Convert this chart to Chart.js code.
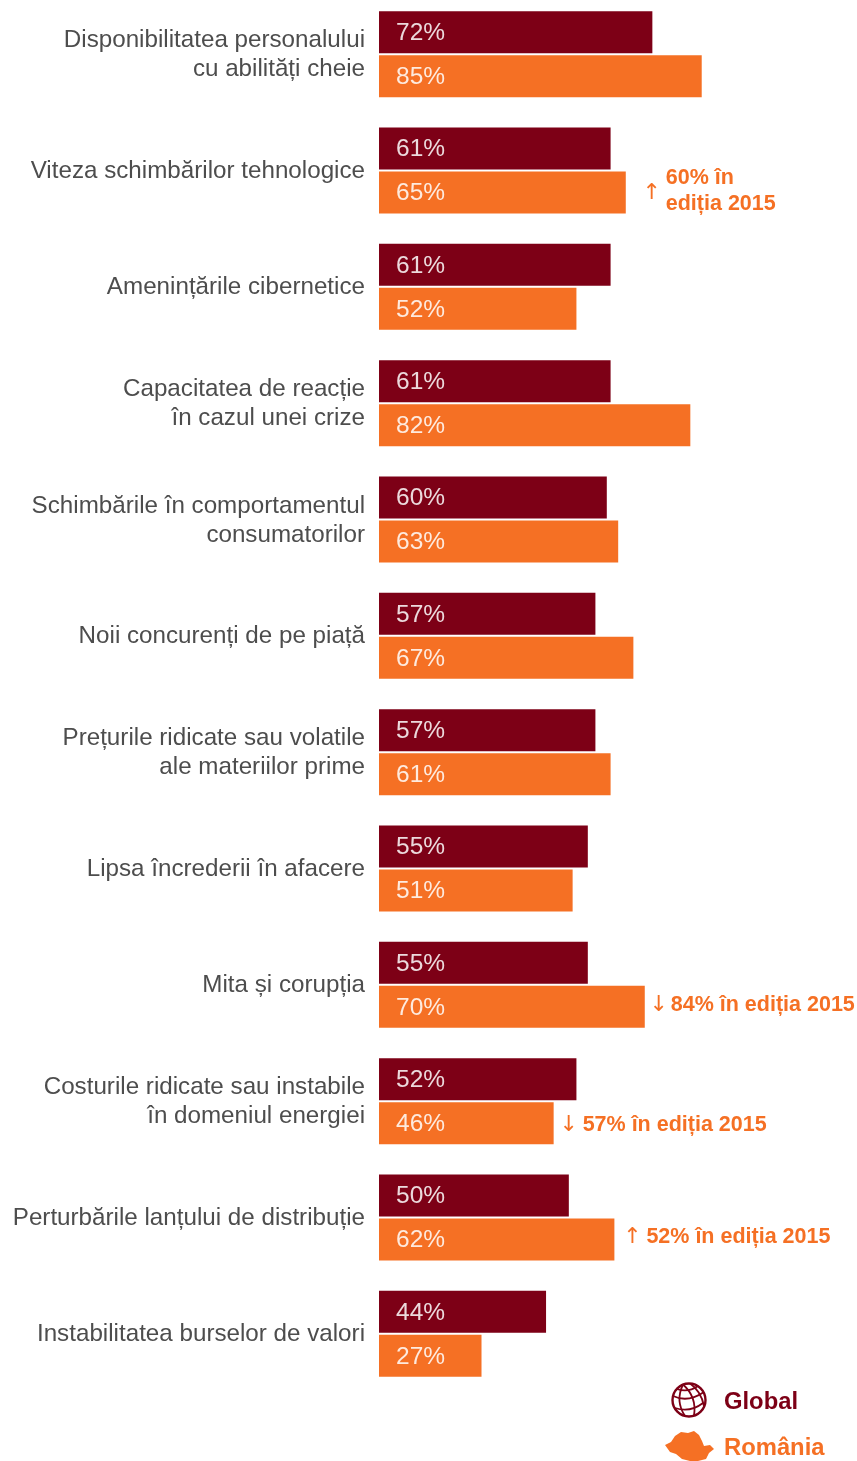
<!DOCTYPE html>
<html>
<head>
<meta charset="utf-8">
<script src="https://cdn.jsdelivr.net/npm/chart.js@4"></script>
<style>
  html, body { margin: 0; padding: 0; background: #fff; }
  body { width: 857px; height: 1461px; position: relative; overflow: hidden; }
  #wrap { position: absolute; left: 0; top: -4px; width: 857px; height: 1396px; }
  .legend-label { position: absolute; left: 724px; font: bold 23.8px "Liberation Sans", sans-serif; }
  svg { position: absolute; }
</style>
</head>
<body>
<div id="wrap"><canvas id="riskChart"></canvas></div>

<svg style="left:670px;top:1381px" width="38" height="38" viewBox="0 0 38 38" fill="none" stroke="#7d0016" stroke-width="1.8">
  <circle cx="19" cy="19" r="16.5" stroke-width="2.4"/>
  <path d="M13 3.5 Q5 20 15 35"/>
  <path d="M13 3.5 Q27 16 24 34.5"/>
  <path d="M20 2.5 Q31 10 34 25"/>
  <path d="M3 15 Q18 22 34 11"/>
  <path d="M5 27 Q20 32 33 22"/>
  <path d="M7 8 Q18 12 28 5"/>
</svg>
<div class="legend-label" style="top:1387px;color:#7d0016">Global</div>

<svg style="left:664px;top:1429px" width="52" height="32" viewBox="0 0 52 32">
  <path fill="#f57024" d="M1 16 L7 13 L11 7 L17 3 L24 4 L30 2 L35 6 L38 12 L40 17 L46 16 L50 20 L45 24 L42 30 L34 32 L26 32 L18 30 L12 25 L6 23 Z"/>
</svg>
<div class="legend-label" style="top:1433px;color:#f57024">România</div>

<script>
const categories = [
  ['Disponibilitatea personalului', 'cu abilități cheie'],
  'Viteza schimbărilor tehnologice',
  'Amenințările cibernetice',
  ['Capacitatea de reacție', 'în cazul unei crize'],
  ['Schimbările în comportamentul', 'consumatorilor'],
  'Noii concurenți de pe piață',
  ['Prețurile ridicate sau volatile', 'ale materiilor prime'],
  'Lipsa încrederii în afacere',
  'Mita și corupția',
  ['Costurile ridicate sau instabile', 'în domeniul energiei'],
  'Perturbările lanțului de distribuție',
  'Instabilitatea burselor de valori'
];
const globalValues = [72, 61, 61, 61, 60, 57, 57, 55, 55, 52, 50, 44];
const romaniaValues = [85, 65, 52, 82, 63, 67, 61, 51, 70, 46, 62, 27];

// 2015 comparison notes, by category index
const notes = {
  1: { arrow: '↑', lines: ['60% în', 'ediția 2015'] },
  8: { arrow: '↓', lines: ['84% în ediția 2015'] },
  9: { arrow: '↓', lines: ['57% în ediția 2015'] },
  10: { arrow: '↑', lines: ['52% în ediția 2015'] }
};

// where each note sits relative to the end of its bar
const noteLayout = {
  1: { arrowDx: 26, textDx: 40, arrowDy: 1, textDy: [-14, 12] },
  8: { arrowDx: 14, textDx: 26, arrowDy: -2, textDy: [-2] },
  9: { arrowDx: 15, textDx: 29, arrowDy: 2, textDy: [2] },
  10: { arrowDx: 18, textDx: 32, arrowDy: -2, textDy: [-2] }
};

const darkRed = '#7d0016';
const orange = '#f57024';

// valorile procentuale in interiorul barelor si notele din dreapta
const barTextPlugin = {
  id: 'barText',
  afterLayout(chart) {
    // category labels sit a pixel lower than the library centres them
    const scale = chart.scales.y;
    const drawLabels = Object.getPrototypeOf(scale).drawLabels;
    scale.drawLabels = function (area) {
      this.ctx.save();
      this.ctx.translate(0, 1);
      drawLabels.call(this, area);
      this.ctx.restore();
    };
  },
  afterDatasetsDraw(chart) {
    const ctx = chart.ctx;
    ctx.save();
    ctx.textBaseline = 'middle';
    chart.data.datasets.forEach((ds, d) => {
      chart.getDatasetMeta(d).data.forEach((bar, i) => {
        ctx.textAlign = 'left';
        ctx.fillStyle = 'rgba(255,255,255,0.85)';
        ctx.font = '24.5px "Liberation Sans"';
        ctx.fillText(ds.data[i] + '%', bar.base + 17, bar.y + 1);
      });
    });
    const meta = chart.getDatasetMeta(1);
    Object.keys(notes).forEach(k => {
      const note = notes[k];
      const pos = noteLayout[k];
      const bar = meta.data[k];
      ctx.fillStyle = orange;
      ctx.font = '22px "DejaVu Sans"';
      ctx.textAlign = 'center';
      ctx.fillText(note.arrow, bar.x + pos.arrowDx, bar.y + pos.arrowDy);
      ctx.textAlign = 'left';
      ctx.font = 'bold 21.5px "Liberation Sans"';
      note.lines.forEach((line, n) => {
        ctx.fillText(line, bar.x + pos.textDx, bar.y + pos.textDy[n]);
      });
    });
    ctx.restore();
  }
};

new Chart(document.getElementById('riskChart'), {
  type: 'bar',
  data: {
    labels: categories,
    datasets: [
      { label: 'Global', data: globalValues, backgroundColor: darkRed },
      { label: 'România', data: romaniaValues, backgroundColor: orange }
    ]
  },
  options: {
    indexAxis: 'y',
    responsive: true,
    maintainAspectRatio: false,
    animation: false,
    categoryPercentage: 0.7565,
    barPercentage: 0.9545,
    layout: { padding: 0 },
    plugins: { legend: { display: false }, tooltip: { enabled: false } },
    scales: {
      x: {
        display: false,
        min: 0,
        max: 125.9
      },
      y: {
        afterFit(scale) {
          scale.width = 379;
          scale.paddingTop = 0;
          scale.paddingBottom = 0;
        },
        grid: { display: false, drawTicks: false },
        border: { display: false },
        ticks: {
          color: '#4d4d4d',
          padding: 14,
          font: { family: '"Liberation Sans"', size: 24.2, lineHeight: 1.2 },
          autoSkip: false
        }
      }
    }
  },
  plugins: [barTextPlugin]
});
</script>
</body>
</html>
